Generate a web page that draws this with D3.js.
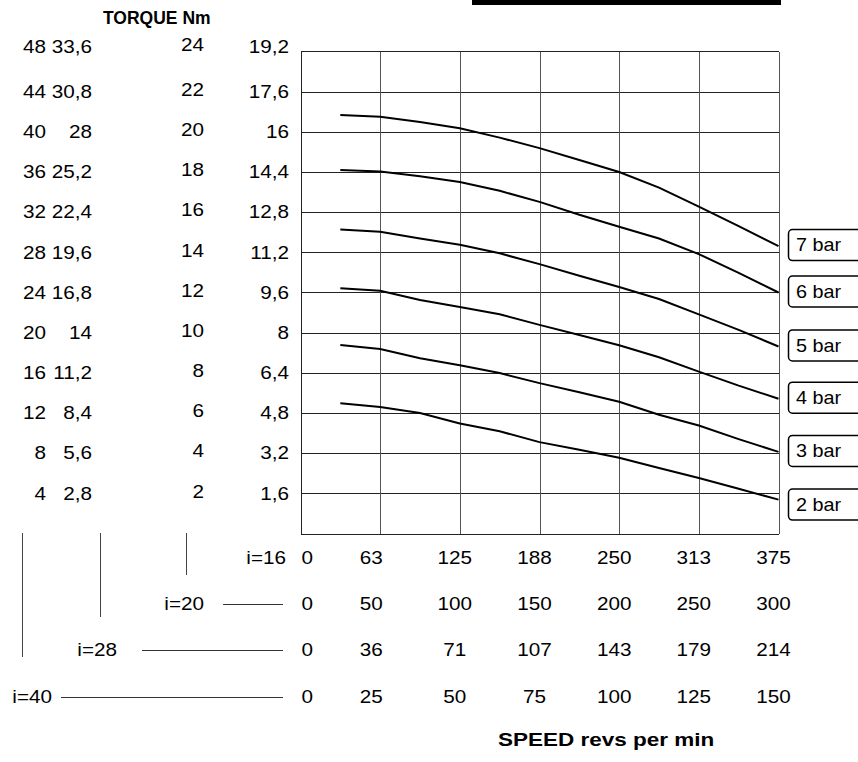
<!DOCTYPE html>
<html>
<head>
<meta charset="utf-8">
<script src="https://cdn.jsdelivr.net/npm/d3@7"></script>
<style>
  body { margin: 0; background: #fff; }
  text { font-family: Arial, "Liberation Sans", sans-serif; fill: #000; }
</style>
</head>
<body>
<div id="chart"></div>
<script>
// speed for i=16 (rpm) where the curves were read
var speedPts = [31.25, 62.5, 93.75, 125, 156.25, 187.5, 218.75, 250, 281.25, 312.5, 343.75, 375];

// torque on the 4th column scale (i=16)
var bar7 = [16.67, 16.6, 16.39, 16.14, 15.77, 15.35, 14.88, 14.4, 13.78, 13.02, 12.24, 11.45];
var bar6 = [14.48, 14.42, 14.23, 14.0, 13.65, 13.21, 12.7, 12.22, 11.75, 11.13, 10.38, 9.6];
var bar5 = [12.11, 12.02, 11.75, 11.5, 11.16, 10.73, 10.27, 9.82, 9.34, 8.73, 8.11, 7.45];
var bar4 = [9.77, 9.67, 9.3, 9.02, 8.73, 8.31, 7.91, 7.5, 7.02, 6.45, 5.89, 5.37];
var bar3 = [7.51, 7.35, 6.98, 6.7, 6.39, 5.99, 5.63, 5.25, 4.73, 4.3, 3.76, 3.25];
var bar2 = [5.19, 5.04, 4.8, 4.38, 4.07, 3.64, 3.34, 3.02, 2.61, 2.21, 1.78, 1.35];
var curveNames = ["7 bar", "6 bar", "5 bar", "4 bar", "3 bar", "2 bar"];

// torque tick labels, one list per column
var torqueCol1 = ["48", "44", "40", "36", "32", "28", "24", "20", "16", "12", "8", "4"];
var torqueCol2 = ["33,6", "30,8", "28", "25,2", "22,4", "19,6", "16,8", "14", "11,2", "8,4", "5,6", "2,8"];
var torqueCol3 = ["24", "22", "20", "18", "16", "14", "12", "10", "8", "6", "4", "2"];
var torqueCol4 = ["19,2", "17,6", "16", "14,4", "12,8", "11,2", "9,6", "8", "6,4", "4,8", "3,2", "1,6"];

// speed labels per gear ratio
var ratios = ["i=16", "i=20", "i=28", "i=40"];
var speedI16 = ["0", "63", "125", "188", "250", "313", "375"];
var speedI20 = ["0", "50", "100", "150", "200", "250", "300"];
var speedI28 = ["0", "36", "71", "107", "143", "179", "214"];
var speedI40 = ["0", "25", "50", "75", "100", "125", "150"];

var W = 858, H = 762;
var svg = d3.select("#chart").append("svg")
  .attr("width", W)
  .attr("height", H);

var x = d3.scaleLinear().domain([0, 375]).range([300.5, 778.5]);
var y = d3.scaleLinear().domain([0, 19.2]).range([533.5, 51.5]);

var numSize = 18, stretch = 1.15;

function label(g, tx, ty, str, anchor, opts) {
  opts = opts || {};
  return g.append("text")
    .attr("transform", "translate(" + tx + "," + ty + ") scale(" + (opts.sx || stretch) + ",1)")
    .attr("text-anchor", anchor)
    .attr("dy", "0.35em")
    .style("font-size", (opts.size || numSize) + "px")
    .style("font-weight", opts.bold ? "bold" : "normal")
    .text(str);
}

// black bar on top
svg.append("rect")
  .attr("x", 472).attr("y", 0)
  .attr("width", 309).attr("height", 5)
  .attr("fill", "#000");

// grid
var grid = svg.append("g").attr("shape-rendering", "crispEdges");
var xTicks = d3.range(7).map(function(i) { return i * 62.5; });
var yTicks = d3.range(13).map(function(i) { return i * 1.6; });

grid.selectAll(".hl")
  .data(yTicks)
  .enter().append("line")
  .attr("x1", x(0)).attr("x2", x(375))
  .attr("y1", function(d) { return Math.round(y(d)) + 0.5; })
  .attr("y2", function(d) { return Math.round(y(d)) + 0.5; })
  .attr("stroke", "#222")
  .attr("stroke-width", 1);

grid.selectAll(".vl")
  .data(xTicks)
  .enter().append("line")
  .attr("y1", y(0)).attr("y2", y(19.2))
  .attr("x1", function(d) { return Math.round(x(d)) + 0.5; })
  .attr("x2", function(d) { return Math.round(x(d)) + 0.5; })
  .attr("stroke", function(d, i) { return i == 0 ? "#222" : "#555"; })
  .attr("stroke-width", 1);

// curves
var series = [bar7, bar6, bar5, bar4, bar3, bar2];
var line = d3.line()
  .x(function(d, i) { return x(speedPts[i]); })
  .y(function(d) { return y(d); });

svg.append("g")
  .selectAll("path")
  .data(series)
  .enter().append("path")
  .attr("d", line)
  .attr("fill", "none")
  .attr("stroke", "#000")
  .attr("stroke-width", 2);

// pressure boxes at the end of each curve
var boxes = svg.append("g");
series.forEach(function(s, i) {
  var cy = y(s[s.length - 1]) - 1;
  if (i == series.length - 1) cy += 6;
  boxes.append("rect")
    .attr("x", 788.5).attr("y", cy - 15.5)
    .attr("width", 80).attr("height", 31)
    .attr("rx", 4)
    .attr("fill", "#fff")
    .attr("stroke", "#000")
    .attr("stroke-width", 1.5);
  label(boxes, 796, cy, curveNames[i], "start", {sx: 1.1});
});

// torque columns
var cols = [
  {labels: torqueCol1, right: 46, dy: 0},
  {labels: torqueCol2, right: 92, dy: 0},
  {labels: torqueCol3, right: 204, dy: -2},
  {labels: torqueCol4, right: 289, dy: 0}
];
var left = svg.append("g");
cols.forEach(function(c) {
  c.labels.forEach(function(t, i) {
    var v = 19.2 - 1.6 * i;
    var yy = y(v) + c.dy + (i == 0 ? -5 : 0);
    label(left, c.right, yy, t, "end");
  });
});

label(svg, 103, 18, "TORQUE Nm", "start", {sx: 1, bold: true, size: 17.5});

// speed label rows
var speedRows = [speedI16, speedI20, speedI28, speedI40];
var rowY = [558, 603.5, 650, 697];
var bottom = svg.append("g");
speedRows.forEach(function(r, k) {
  r.forEach(function(t, j) {
    if (j == 0) label(bottom, x(0) + 1, rowY[k], t, "start");
    else label(bottom, x(xTicks[j]) - (j == 1 ? 9 : 5), rowY[k], t, "middle");
  });
});

// ratio labels with leaders
var ratioRight = [286, 204, 117, 52];
var leaderStart = [null, 223, 142, 61];
ratios.forEach(function(r, k) {
  label(bottom, ratioRight[k], rowY[k], r, "end");
  if (leaderStart[k] != null) {
    bottom.append("line")
      .attr("x1", leaderStart[k]).attr("x2", 283)
      .attr("y1", Math.round(rowY[k]) + 0.5).attr("y2", Math.round(rowY[k]) + 0.5)
      .attr("stroke", "#333").attr("stroke-width", 1)
      .attr("shape-rendering", "crispEdges");
  }
});

// vertical brackets under the torque columns
var brackets = [{x: 186, y2: 575}, {x: 100, y2: 617}, {x: 22, y2: 657}];
brackets.forEach(function(b) {
  bottom.append("line")
    .attr("x1", b.x + 0.5).attr("x2", b.x + 0.5)
    .attr("y1", 533).attr("y2", b.y2)
    .attr("stroke", "#444").attr("stroke-width", 1)
    .attr("shape-rendering", "crispEdges");
});

label(svg, 498, 740, "SPEED revs per min", "start", {sx: 1.25, bold: true, size: 18});
</script>
</body>
</html>
